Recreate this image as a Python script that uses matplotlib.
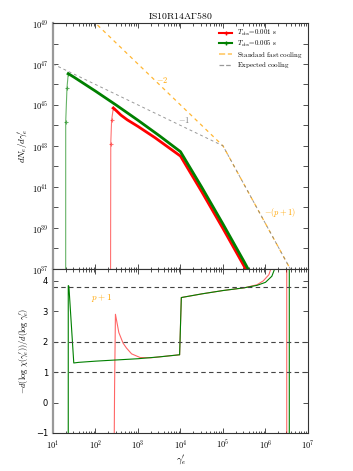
import numpy as np
import matplotlib
matplotlib.use("Agg")
import matplotlib.pyplot as plt
from matplotlib.ticker import LogLocator, FuncFormatter, NullFormatter, MultipleLocator

plt.rcParams['mathtext.fontset'] = 'cm'
plt.rcParams['font.family'] = ['DejaVu Sans']

# ---------------- data (log10 values) ----------------
# top panel: T_obs = 0.005 s (green)
g_rise_lgam = [1.299, 1.30, 1.33, 1.36]
g_rise_lN = [30.0, 44.16, 45.83, 46.53]
g_main_lgam = [1.36, 1.5, 2.0, 2.5, 3.0, 3.5, 4.0, 4.5, 5.0, 5.5, 6.0, 6.3]
g_main_lN = [46.53, 46.35, 45.675, 44.975, 44.25, 43.5, 42.715, 40.98, 39.18, 37.33, 35.4, 34.1]

# top panel: T_obs = 0.001 s (red)
r_rise_lgam = [2.35, 2.36, 2.38, 2.42]
r_rise_lN = [30.0, 43.1, 44.25, 44.85]
r_main_lgam = [2.42, 2.5, 2.6, 2.75, 3.0, 3.4, 4.0, 4.5, 5.0, 5.5, 6.0, 6.3]
r_main_lN = [44.85, 44.7, 44.5, 44.27, 43.95, 43.4, 42.5, 40.76, 38.96, 37.11, 35.18, 33.9]

# cooling references
cool_lgam = [1.0, 5.0, 7.0]
fast_lN = [51.0, 43.0, 35.4]
expected_lN = [47.0, 43.0, 35.4]

# bottom panel: local slope
g_der_lgam = [1.36, 1.36, 1.375, 1.49, 1.6, 2.0, 2.5, 3.0, 3.5, 3.98, 4.02, 4.5, 5.0, 5.5,
              5.8, 6.0, 6.15, 6.3, 6.56, 6.56]
g_der = [-1.5, 3.84, 3.82, 1.3, 1.32, 1.36, 1.4, 1.44, 1.5, 1.57, 3.45, 3.57, 3.68, 3.77,
         3.85, 3.95, 4.15, 4.7, 5.0, -1.5]
r_der_lgam = [2.44, 2.45, 2.47, 2.55, 2.65, 2.73, 2.85, 3.05, 3.3, 3.5, 3.98, 4.02, 4.5, 5.0,
              5.5, 5.8, 5.95, 6.08, 6.2, 6.50, 6.50]
r_der = [-1.5, 0.5, 2.9, 2.3, 1.95, 1.79, 1.6, 1.48, 1.47, 1.5, 1.57, 3.45, 3.57, 3.68,
         3.77, 3.87, 4.0, 4.2, 4.7, 5.0, -1.5]
ref_levels = [3.8, 2.0, 1.0]

GREEN = '#008000'
RED = '#ff0000'
ORANGE = '#ffa500'


def pw(a):
    return 10.0 ** np.asarray(a)


fig = plt.figure(figsize=(3.53, 4.71), dpi=100)
gs = fig.add_gridspec(2, 1, height_ratios=[245, 164], hspace=0,
                      left=0.150, right=0.8725, top=0.951, bottom=0.0807)
ax1 = fig.add_subplot(gs[0])
ax2 = fig.add_subplot(gs[1], sharex=ax1)

# top panel
ax1.plot(pw(r_rise_lgam), pw(r_rise_lN), color=RED, lw=0.8, alpha=0.55,
         marker='+', ms=3, mew=0.8)
ax1.plot(pw(r_main_lgam), pw(r_main_lN), color=RED, lw=2.0)
ax1.plot(pw(g_rise_lgam), pw(g_rise_lN), color=GREEN, lw=0.8, alpha=0.6,
         marker='+', ms=3, mew=0.8)
ax1.plot(pw(g_main_lgam), pw(g_main_lN), color=GREEN, lw=2.0)
ax1.plot(pw(cool_lgam), pw(fast_lN), color=ORANGE, ls='--', lw=0.9, alpha=0.8, dashes=(3, 3))
ax1.plot(pw(cool_lgam), pw(expected_lN), color='gray', ls='--', lw=0.7, alpha=0.8, dashes=(3, 3))

# legend proxies
h1, = ax1.plot([], [], color=RED, lw=1.5, marker='+', ms=3)
h2, = ax1.plot([], [], color=GREEN, lw=1.5, marker='+', ms=3)
h3, = ax1.plot([], [], color=ORANGE, ls='--', lw=1.2, alpha=0.6)
h4, = ax1.plot([], [], color='gray', ls='--', lw=0.9, alpha=0.8)
ax1.legend([h1, h2, h3, h4],
           [r'$T_{\rm obs}\!=\!0.001\ \mathrm{s}$', r'$T_{\rm obs}\!=\!0.005\ \mathrm{s}$',
            r'$\mathrm{Standard\ fast\ cooling}$', r'$\mathrm{Expected\ cooling}$'],
           loc='upper right', frameon=False, fontsize=5.0, handlelength=1.9,
           labelspacing=0.1, borderaxespad=0.3, handletextpad=0.7)

ax1.text(10 ** 3.56, 10 ** 46.2, r'$-2$', color=ORANGE, fontsize=6, ha='center', va='center')
ax1.text(10 ** 4.08, 10 ** 44.25, r'$-1$', color='gray', fontsize=6, ha='center', va='center')
ax1.text(10 ** 6.33, 10 ** 39.75, r'$-(p+1)$', color=ORANGE, fontsize=6, ha='center', va='center')

ax1.set_xscale('log')
ax1.set_yscale('log')
ax1.set_xlim(1e1, 1e7)
ax1.set_ylim(1e37, 1e49)
ax1.set_ylabel(r"$dN_e/d\gamma_e'$", fontsize=6.5, labelpad=2)
ax1.set_title(r'$\mathrm{IS10R14A\Gamma 580}$', fontsize=7, pad=3)

ax1.yaxis.set_major_locator(LogLocator(base=10, numticks=20))
ax1.yaxis.set_minor_locator(LogLocator(base=10, subs=[1.0], numticks=20))


def yfmt(v, pos):
    e = int(round(np.log10(v)))
    return r'$10^{%d}$' % e if e % 2 == 1 else ''


ax1.yaxis.set_major_formatter(FuncFormatter(yfmt))
ax1.yaxis.set_minor_formatter(NullFormatter())
plt.setp(ax1.get_xticklabels(), visible=False)

# bottom panel
ax2.plot(pw(r_der_lgam), r_der, color=RED, lw=0.8, alpha=0.6)
ax2.plot(pw(g_der_lgam), g_der, color=GREEN, lw=0.8)
for lv in ref_levels:
    ax2.axhline(lv, color='#444444', ls='--', lw=0.8, dashes=(4, 3))
ax2.text(10 ** 2.15, 3.45, r'$p+1$', color=ORANGE, fontsize=6.5, ha='center', va='center')
ax2.set_ylim(-1, 4.4)
ax2.yaxis.set_major_locator(MultipleLocator(1))
ax2.set_ylabel(r"$-d(\log\,\chi(\gamma_e'))/d(\log\,\gamma_e')$", fontsize=6, labelpad=4)
ax2.set_xlabel(r"$\gamma_e'$", fontsize=7, labelpad=2)
ax2.xaxis.set_major_locator(LogLocator(base=10, numticks=10))
ax2.xaxis.set_major_formatter(FuncFormatter(lambda v, p: r'$10^{%d}$' % int(round(np.log10(v)))))
ax2.xaxis.set_minor_locator(LogLocator(base=10, subs=np.arange(2, 10), numticks=10))

for ax in (ax1, ax2):
    ax.tick_params(which='both', direction='in', top=True, right=True, labelsize=6,
                   color='#333333', width=0.6)
    ax.tick_params(which='major', length=3.5)
    ax.tick_params(which='minor', length=1.8)
    for s in ax.spines.values():
        s.set_color('#333333')
        s.set_linewidth(0.8)
    ax.spines['left'].set_color('#999999')
    ax.spines['left'].set_linewidth(1.6)

fig.savefig('out.png', dpi=100)
